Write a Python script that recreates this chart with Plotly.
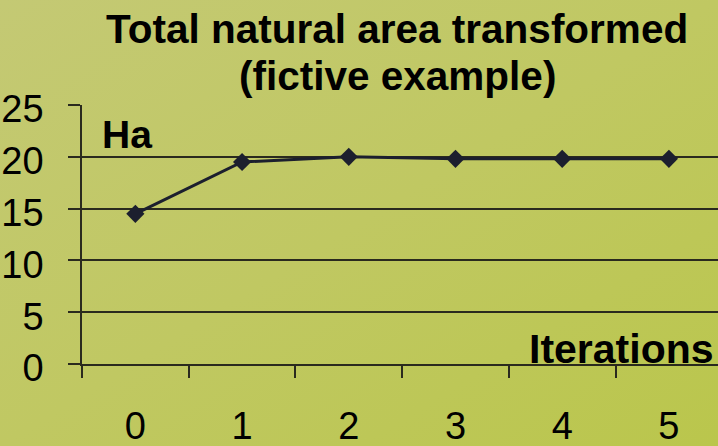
import plotly.graph_objects as go
import urllib.parse

iterations = [0, 1, 2, 3, 4, 5]
area_ha = [14.5, 19.5, 20.0, 19.8, 19.8, 19.8]
y_ticks = [0, 5, 10, 15, 20, 25]
title_lines = ["Total natural area transformed", "(fictive example)"]
y_unit = "Ha"
x_name = "Iterations"

W, H = 718, 446
ML, MR, MT, MB = 82, 0, 105, 82

svg = (
    "<svg xmlns='http://www.w3.org/2000/svg' width='718' height='446' preserveAspectRatio='none'>"
    "<defs><linearGradient id='g' x1='0' y1='0' x2='1' y2='1'>"
    "<stop offset='0' stop-color='#c4c974'/>"
    "<stop offset='0.5' stop-color='#c0c862'/>"
    "<stop offset='1' stop-color='#bac64c'/>"
    "</linearGradient></defs>"
    "<rect width='718' height='446' fill='url(#g)'/></svg>"
)
bg_src = "data:image/svg+xml;charset=utf-8," + urllib.parse.quote(svg)

FONT = "Liberation Sans, Arial, sans-serif"

fig = go.Figure()
fig.add_trace(go.Scatter(
    x=iterations, y=area_ha, mode="lines+markers",
    line=dict(color="#1c1f2e", width=3),
    marker=dict(symbol="diamond", size=14, color="#1c1f2e"),
    hoverinfo="x+y", showlegend=False,
))

pw = W - ML - MR
ph = H - MT - MB

def px_x(p):
    return (p - ML) / pw

def px_y(p):
    return (H - MB - p) / ph

annotations = [
    dict(text="<b>%s</b>" % title_lines[0], x=px_x(397), y=px_y(29),
         xref="paper", yref="paper", xanchor="center", yanchor="middle",
         showarrow=False, font=dict(size=40.5, color="black", family=FONT)),
    dict(text="<b>%s</b>" % title_lines[1], x=px_x(397), y=px_y(76),
         xref="paper", yref="paper", xanchor="center", yanchor="middle",
         showarrow=False, font=dict(size=40.5, color="black", family=FONT)),
    dict(text="<b>%s</b>" % y_unit, x=px_x(127), y=px_y(134),
         xref="paper", yref="paper", xanchor="center", yanchor="middle",
         showarrow=False, font=dict(size=39, color="black", family=FONT)),
    dict(text="<b>%s</b>" % x_name, x=px_x(716), y=px_y(349),
         xref="paper", yref="paper", xanchor="right", yanchor="middle",
         showarrow=False, font=dict(size=41, color="black", family=FONT)),
]

fig.update_layout(
    template="none",
    width=W, height=H,
    margin=dict(l=ML, r=MR, t=MT, b=MB, pad=0, autoexpand=False),
    paper_bgcolor="rgba(0,0,0,0)",
    plot_bgcolor="rgba(0,0,0,0)",
    images=[dict(source=bg_src, xref="paper", yref="paper",
                 x=-ML / pw, y=1 + MT / ph, sizex=W / pw, sizey=H / ph,
                 xanchor="left", yanchor="top", sizing="stretch",
                 layer="below")],
    annotations=annotations,
    font=dict(family=FONT, color="black"),
    xaxis=dict(
        range=[-0.5, 5.46], tickvals=iterations,
        ticktext=[str(v) for v in iterations],
        ticks="", showgrid=False, zeroline=False, automargin=False,
        showline=True, linecolor="#2a2a1e", linewidth=2,
        tickfont=dict(size=38, family=FONT, color="black"),
        ticklabelstandoff=27,
        minor=dict(ticks="outside", tick0=-0.5, dtick=1, ticklen=12,
                   tickcolor="#2a2a1e", tickwidth=1.5, showgrid=False),
        fixedrange=True,
    ),
    yaxis=dict(
        range=[0, 25], tickvals=y_ticks, ticktext=[str(v) for v in y_ticks],
        ticks="outside", ticklen=12, tickcolor="#2a2a1e", tickwidth=1.5,
        showgrid=True, gridcolor="#2a2a1e", gridwidth=1.5,
        zeroline=False, showline=True, linecolor="#2a2a1e", linewidth=1.5,
        automargin=False,
        tickfont=dict(size=38, family=FONT, color="black"),
        ticklabelstandoff=17,
        ticklabelshift=4,
        fixedrange=True,
    ),
)

fig.write_html(
    "out.html",
    config={"displayModeBar": False},
    post_script="document.body.style.margin='0';document.body.style.padding='0';document.body.style.overflow='hidden';",
)
